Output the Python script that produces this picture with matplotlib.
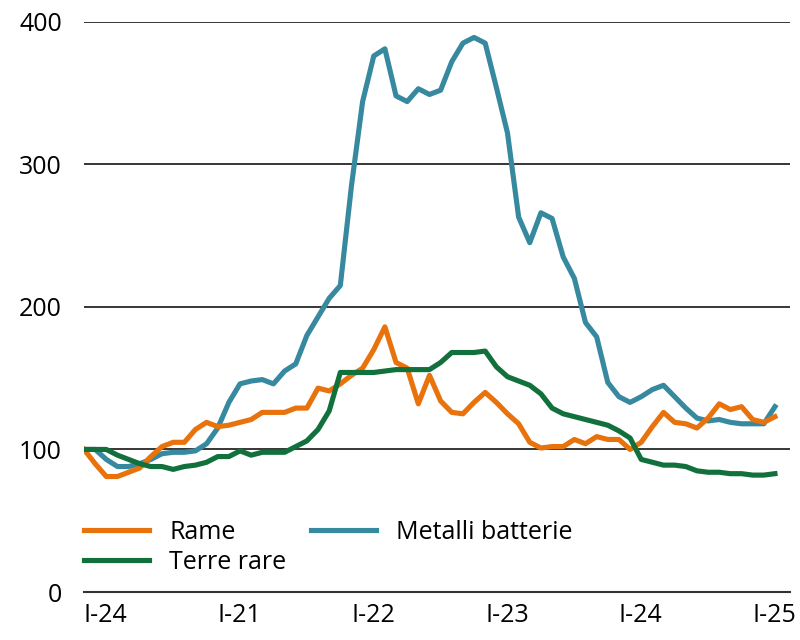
import matplotlib
matplotlib.use("Agg")
import matplotlib.pyplot as plt
import numpy as np

plt.rcParams['font.family'] = ['Open Sans', 'DejaVu Sans']

# monthly index values (first month = 100)
rame = [100, 90, 81, 81, 84, 87, 95, 102, 105, 105, 114, 119, 116, 117, 119, 121,
        126, 126, 126, 129, 129, 143, 141, 146, 152, 157, 170, 186, 161, 157, 132,
        152, 134, 126, 125, 133, 140, 133, 125, 118, 105, 101, 102, 102, 107, 104,
        109, 107, 107, 100, 105, 116, 126, 119, 118, 115, 122, 132, 128, 130, 121,
        119, 123]
terre_rare = [100, 100, 100, 96, 93, 90, 88, 88, 86, 88, 89, 91, 95, 95, 99, 96,
              98, 98, 98, 102, 106, 114, 127, 154, 154, 154, 154, 155, 156, 156,
              156, 156, 161, 168, 168, 168, 169, 158, 151, 148, 145, 139, 129, 125,
              123, 121, 119, 117, 113, 108, 93, 91, 89, 89, 88, 85, 84, 84, 83, 83,
              82, 82, 83]
metalli_batterie = [100, 100, 93, 88, 88, 90, 93, 97, 98, 98, 99, 104, 115, 133,
                    146, 148, 149, 146, 155, 160, 180, 193, 206, 215, 285, 344, 376,
                    381, 348, 344, 353, 349, 352, 372, 385, 389, 385, 354, 322, 263,
                    245, 266, 262, 235, 220, 189, 179, 147, 137, 133, 137, 142, 145,
                    137, 129, 122, 120, 121, 119, 118, 118, 118, 130]
tick_labels = ["I-24", "I-21", "I-22", "I-23", "I-24", "I-25"]
y_ticks = [0, 100, 200, 300, 400]

c_rame = "#e8730d"
c_terre = "#12703d"
c_batt = "#3789a0"

x = np.arange(len(rame))

fig = plt.figure(figsize=(8, 6.4), dpi=100)
ax = fig.add_axes([0.105, 0.075, 0.8825, 0.891])

for y in y_ticks[1:]:
    ax.axhline(y, color="black", lw=1.1, zorder=1)

ax.plot(x, rame, color=c_rame, lw=3.7, label="Rame", zorder=3)
ax.plot(x, terre_rare, color=c_terre, lw=3.7, label="Terre rare", zorder=3)
ax.plot(x, metalli_batterie, color=c_batt, lw=3.7, label="Metalli batterie", zorder=2)

ax.set_xlim(0, len(x) - 1 + 1.35)
ax.set_ylim(0, 400)
ax.set_yticks(y_ticks)
ax.set_xticks(np.arange(0, len(x), 12))
ax.set_xticklabels(tick_labels)
for lab in ax.get_xticklabels():
    lab.set_horizontalalignment("left")

ax.tick_params(axis="y", length=0, pad=16, labelsize=18)
ax.tick_params(axis="x", length=0, pad=8, labelsize=18)

for s in ["top", "right", "left"]:
    ax.spines[s].set_visible(False)
ax.spines["bottom"].set_color("#333333")
ax.spines["bottom"].set_linewidth(1.5)

ax.legend(loc="lower left", ncol=2, frameon=False, fontsize=18,
          handlelength=2.6, handletextpad=0.8, columnspacing=1.0,
          labelspacing=0.2, borderpad=0, borderaxespad=0,
          bbox_to_anchor=(0.0, 0.03))

fig.savefig("out.png", dpi=100)
